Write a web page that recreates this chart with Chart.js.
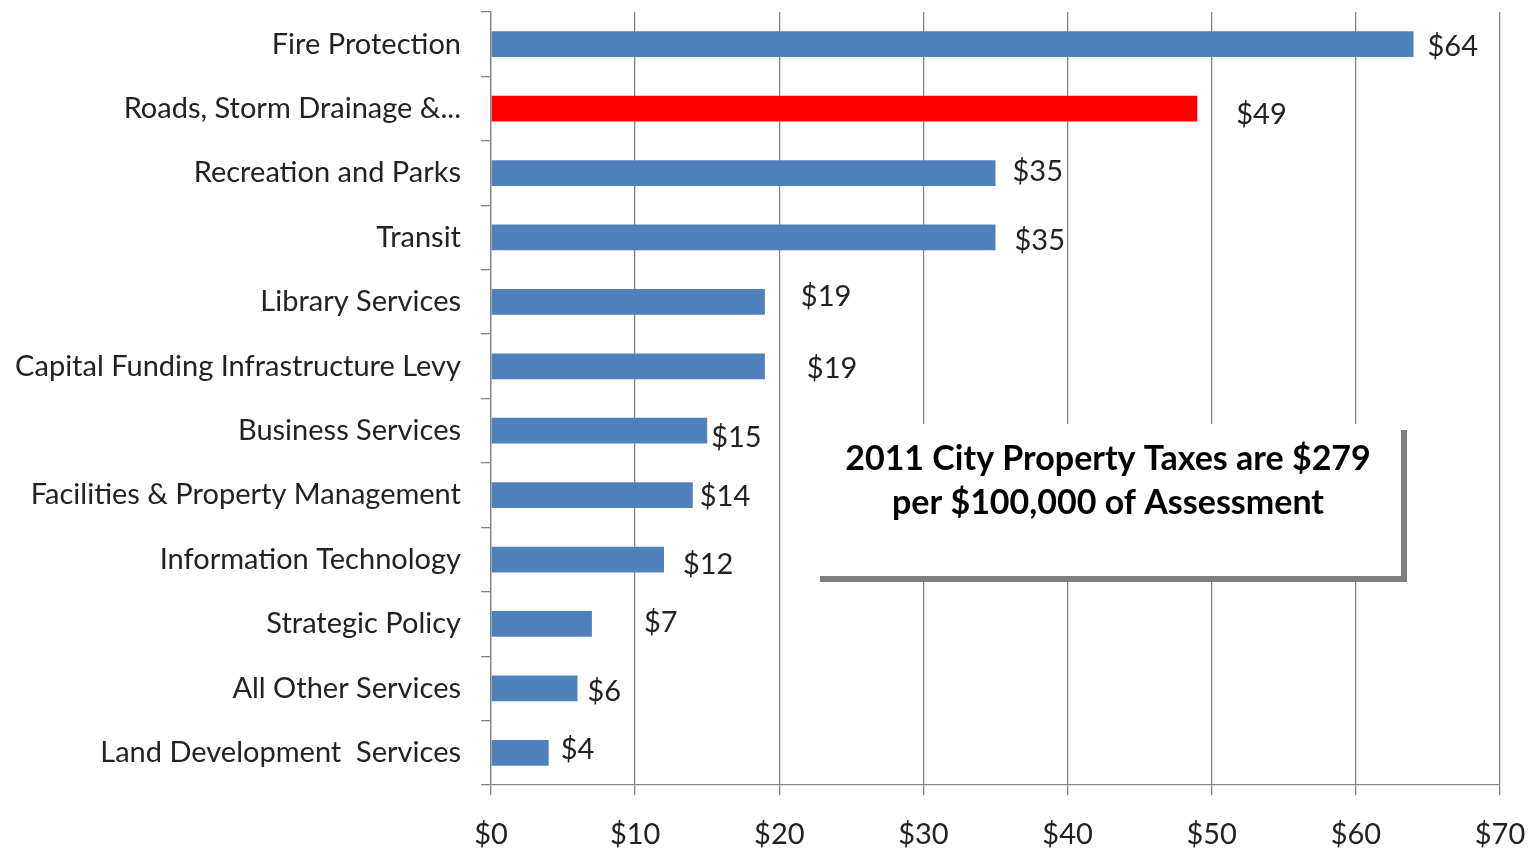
<!DOCTYPE html>
<html>
<head>
<meta charset="utf-8">
<script src="https://cdn.jsdelivr.net/npm/chart.js@4/dist/chart.umd.min.js"></script>
<style>
  html, body { margin: 0; padding: 0; background: #fff; }
  #wrap { width: 1528px; height: 849px; }
</style>
</head>
<body>
<div id="wrap"><canvas id="taxChart"></canvas></div>
<script>
// Chart data
const categories = [
    "Fire Protection",
    "Roads, Storm Drainage &...",
    "Recreation and Parks",
    "Transit",
    "Library Services",
    "Capital Funding Infrastructure Levy",
    "Business Services",
    "Facilities & Property Management",
    "Information Technology",
    "Strategic Policy",
    "All Other Services",
    "Land Development  Services"
];
const costs = [64, 49, 35, 35, 19, 19, 15, 14, 12, 7, 6, 4];
const xTicks = [0, 10, 20, 30, 40, 50, 60, 70];
const boxLines = ["2011 City Property Taxes are $279", "per $100,000 of Assessment"];

// label nudges (px from bar end / bar centre), as placed in the original
const labelNudge = [[14, 2], [39, 6], [17, -1], [19, 3], [36, -5], [42, 2], [4, 7], [7, 2], [19, 5], [52, -1], [10, 3], [12, -3]];

const barColors = costs.map((v, i) => i === 1 ? "#FF0000" : "#4F81BD");
const gridGray = "#868686";
const fontName = "Lato, 'Open Sans', sans-serif";

// Value labels next to each bar
const valueLabels = {
    id: "valueLabels",
    afterDatasetsDraw(chart) {
        const ctx = chart.ctx;
        const meta = chart.getDatasetMeta(0);
        ctx.save();
        ctx.font = "29px " + fontName;
        ctx.fillStyle = "#222";
        ctx.textAlign = "left";
        ctx.textBaseline = "middle";
        meta.data.forEach((bar, i) => {
            const n = labelNudge[i];
            ctx.fillText("$" + costs[i], bar.x + n[0], bar.y + n[1]);
        });
        ctx.restore();
    }
};

// Text box with drop shadow
const noteBox = {
    id: "noteBox",
    afterDraw(chart) {
        const ctx = chart.ctx;
        ctx.save();
        ctx.fillStyle = "#7f7f7f";
        ctx.fillRect(820, 430, 587, 152);
        ctx.fillStyle = "#fff";
        ctx.fillRect(812, 424, 589, 152);
        ctx.fillStyle = "#000";
        ctx.font = "bold 34px " + fontName;
        ctx.textAlign = "center";
        ctx.textBaseline = "middle";
        ctx.fillText(boxLines[0], 1108, 459);
        ctx.fillText(boxLines[1], 1108, 503);
        ctx.restore();
    }
};

const taxChart = new Chart(document.getElementById("taxChart"), {
    type: "bar",
    data: {
        labels: categories,
        datasets: [{
            data: costs,
            backgroundColor: barColors,
            barPercentage: 0.8,
            categoryPercentage: 0.5
        }]
    },
    options: {
        indexAxis: "y",
        responsive: true,
        maintainAspectRatio: false,
        animation: false,
        layout: { padding: { top: 12, right: 28, left: 0, bottom: 0 } },
        plugins: { legend: { display: false }, tooltip: { enabled: false } },
        scales: {
            x: {
                min: 0,
                max: 70,
                afterBuildTicks: axis => { axis.ticks = xTicks.map(v => ({ value: v })); },
                afterFit: axis => {
                    axis.height = 64;
                    axis.paddingLeft = 0;
                    axis.paddingRight = 0;
                },
                ticks: {
                    callback: v => "$" + v,
                    font: { family: fontName, size: 29 },
                    color: "#222",
                    padding: 22,
                    maxRotation: 0
                },
                grid: { color: gridGray, lineWidth: 1.3, tickLength: 10 },
                border: { color: gridGray, width: 1.3 }
            },
            y: {
                afterFit: axis => {
                    axis.width = 491;
                    axis.paddingTop = 0;
                    axis.paddingBottom = 0;
                },
                ticks: {
                    font: { family: fontName, size: 29 },
                    color: "#222",
                    padding: 20
                },
                grid: { drawOnChartArea: false, color: gridGray, lineWidth: 1.3, tickLength: 10 },
                border: { color: gridGray, width: 1.3 }
            }
        }
    },
    plugins: [valueLabels, noteBox]
});
</script>
</body>
</html>
